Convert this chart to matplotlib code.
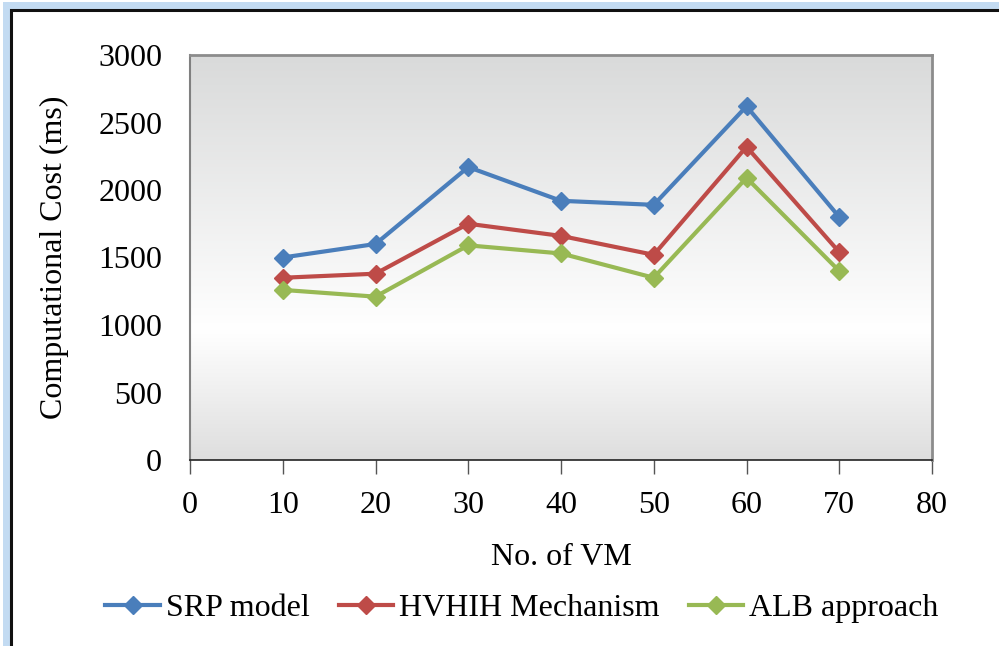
import matplotlib.pyplot as plt
from matplotlib.patches import Rectangle
from matplotlib.colors import LinearSegmentedColormap
import numpy as np

plt.rcParams['font.family'] = ['Liberation Serif', 'DejaVu Serif']

# data
vm_counts = [10, 20, 30, 40, 50, 60, 70]
srp_model = [1500, 1600, 2170, 1920, 1890, 2620, 1800]
hvhih_mech = [1350, 1380, 1750, 1660, 1520, 2320, 1540]
alb_approach = [1260, 1210, 1590, 1530, 1350, 2090, 1400]
series_names = ['SRP model', 'HVHIH Mechanism', 'ALB approach']
series_colors = ['#4a7ebb', '#be4b48', '#98b954']

W, H = 999, 646
fs = 23
fig = plt.figure(figsize=(W / 100, H / 100), dpi=100)

# outer frame with a soft blue glow
fig.patches.append(Rectangle((3 / W, 0), 1, 1 - 2 / H, transform=fig.transFigure,
                             facecolor='#c3dbf2', edgecolor='none', zorder=-2))
fig.patches.append(Rectangle((11 / W, -0.05), 1.1, 1.05 - 10 / H, transform=fig.transFigure,
                             facecolor='white', edgecolor='#111111', linewidth=2.2, zorder=-1))

left, right, top, bottom = 190, 932, 55, 460
ax = fig.add_axes([left / W, 1 - bottom / H, (right - left) / W, (bottom - top) / H])

# vertical gradient fill of the plot area
grad = LinearSegmentedColormap.from_list('bg', [(0, '#d9dada'), (0.68, '#ffffff'), (1.0, '#dedede')])
ax.imshow(np.linspace(0, 1, 256).reshape(-1, 1), cmap=grad, aspect='auto',
          extent=[0, 80, 0, 3000], origin='upper', zorder=0, interpolation='bilinear')

for vals, name, col in zip([srp_model, hvhih_mech, alb_approach], series_names, series_colors):
    ax.plot(vm_counts, vals, color=col, linewidth=3, marker='D', markersize=9,
            label=name, zorder=3, solid_joinstyle='round')

ax.set_xlim(0, 80)
ax.set_ylim(0, 3000)
ax.set_xticks(range(0, 81, 10))
ax.set_yticks(range(0, 3001, 500))
ax.tick_params(axis='x', direction='out', length=10, width=1, color='#555555',
               labelsize=fs, pad=12)
ax.tick_params(axis='y', length=0, labelsize=fs, pad=20)

for s in ['top', 'right']:
    ax.spines[s].set_color('#8c8c8c')
    ax.spines[s].set_linewidth(2)
ax.spines['left'].set_color('#808080')
ax.spines['left'].set_linewidth(1.5)
ax.spines['bottom'].set_color('#222222')
ax.spines['bottom'].set_linewidth(1.2)

ax.set_xlabel('No. of VM', fontsize=fs, labelpad=17)
ax.set_ylabel('Computational Cost (ms)', fontsize=fs, labelpad=21)

fig.legend(loc='center', bbox_to_anchor=(522 / W, 1 - 608 / H), ncol=3, frameon=False,
           fontsize=fs, handlelength=1.7, handletextpad=0.2, columnspacing=0.9)

fig.savefig('out.png', dpi=100)
